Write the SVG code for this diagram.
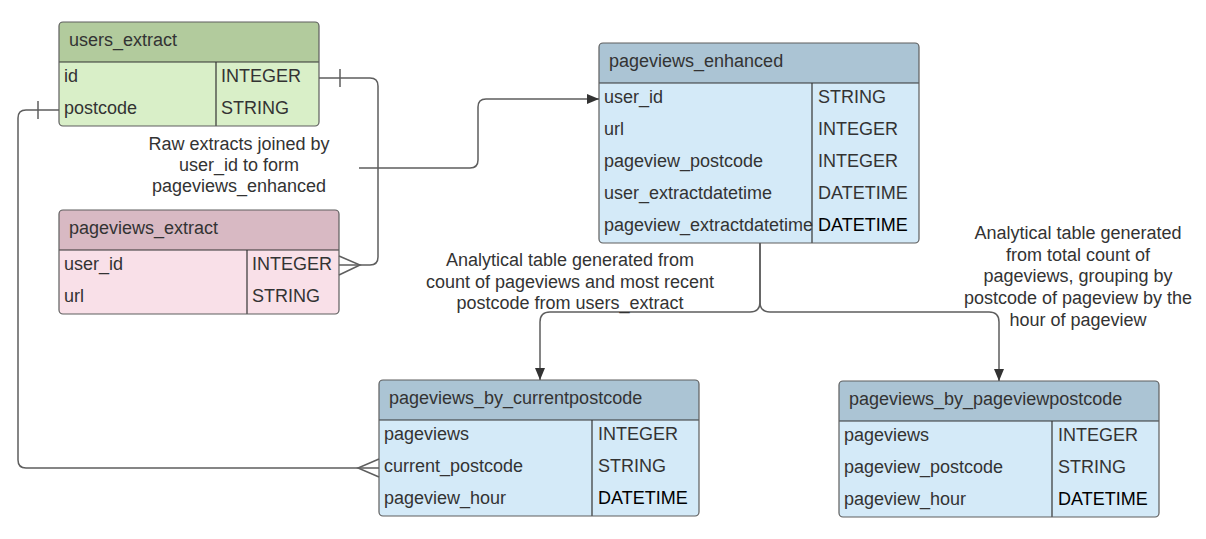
<svg xmlns="http://www.w3.org/2000/svg" width="1206" height="539" viewBox="0 0 1206 539">
<style>
text{font-family:"Liberation Sans",Arial,sans-serif;font-size:18px;fill:#333333}
.lbl{text-anchor:middle}
.blk{fill:#000000}
.border{fill:none;stroke:#5e5e5e;stroke-width:1.2}
.sep{stroke:#333333;stroke-width:1.2}
.conn{fill:none;stroke:#5e5e5e;stroke-width:1.5}
.g-h{fill:#b2cb9d}.g-b{fill:#d9efc8}
.p-h{fill:#d8b9c3}.p-b{fill:#f9e0e8}
.b-h{fill:#abc4d4}.b-b{fill:#d4eaf8}
</style>
<defs>
<marker id="arr" viewBox="0 0 12 10" refX="12" refY="5" markerWidth="12" markerHeight="10" markerUnits="userSpaceOnUse" orient="auto">
<path d="M0,0 L12,5 L0,10 Z" fill="#333333"/>
</marker>
</defs>

<g id="users_extract">
<rect x="59" y="22" width="260" height="104" rx="4" class="g-b"/>
<path d="M59,62 V26 Q59,22 63,22 H315 Q319,22 319,26 V62 Z" class="g-h"/>
<line x1="59" y1="62" x2="319" y2="62" class="sep"/>
<line x1="216" y1="62" x2="216" y2="126" class="sep"/>
<rect x="59" y="22" width="260" height="104" rx="4" class="border"/>
<text x="69" y="46">users_extract</text>
<text x="64" y="82">id</text><text x="221" y="82">INTEGER</text>
<text x="64" y="114">postcode</text><text x="221" y="114">STRING</text>
</g>

<g id="pageviews_extract">
<rect x="59" y="210" width="280" height="104" rx="4" class="p-b"/>
<path d="M59,250 V214 Q59,210 63,210 H335 Q339,210 339,214 V250 Z" class="p-h"/>
<line x1="59" y1="250" x2="339" y2="250" class="sep"/>
<line x1="247" y1="250" x2="247" y2="314" class="sep"/>
<rect x="59" y="210" width="280" height="104" rx="4" class="border"/>
<text x="69" y="234">pageviews_extract</text>
<text x="64" y="270">user_id</text><text x="252" y="270">INTEGER</text>
<text x="64" y="302">url</text><text x="252" y="302">STRING</text>
</g>

<g id="pageviews_enhanced">
<rect x="599" y="43" width="320" height="200" rx="4" class="b-b"/>
<path d="M599,83 V47 Q599,43 603,43 H915 Q919,43 919,47 V83 Z" class="b-h"/>
<line x1="599" y1="83" x2="919" y2="83" class="sep"/>
<line x1="812" y1="83" x2="812" y2="243" class="sep"/>
<rect x="599" y="43" width="320" height="200" rx="4" class="border"/>
<text x="609" y="67">pageviews_enhanced</text>
<text x="604" y="103">user_id</text><text x="818" y="103">STRING</text>
<text x="604" y="135">url</text><text x="818" y="135">INTEGER</text>
<text x="604" y="167">pageview_postcode</text><text x="818" y="167">INTEGER</text>
<text x="604" y="199">user_extractdatetime</text><text x="818" y="199">DATETIME</text>
<text x="604" y="231">pageview_extractdatetime</text><text x="818" y="231" class="blk">DATETIME</text>
</g>

<g id="pageviews_by_currentpostcode">
<rect x="379" y="380" width="320" height="136" rx="4" class="b-b"/>
<path d="M379,420 V384 Q379,380 383,380 H695 Q699,380 699,384 V420 Z" class="b-h"/>
<line x1="379" y1="420" x2="699" y2="420" class="sep"/>
<line x1="592" y1="420" x2="592" y2="516" class="sep"/>
<rect x="379" y="380" width="320" height="136" rx="4" class="border"/>
<text x="389" y="404">pageviews_by_currentpostcode</text>
<text x="384" y="440">pageviews</text><text x="598" y="440">INTEGER</text>
<text x="384" y="472">current_postcode</text><text x="598" y="472">STRING</text>
<text x="384" y="504">pageview_hour</text><text x="598" y="504" class="blk">DATETIME</text>
</g>

<g id="pageviews_by_pageviewpostcode">
<rect x="839" y="381" width="320" height="136" rx="4" class="b-b"/>
<path d="M839,421 V385 Q839,381 843,381 H1155 Q1159,381 1159,385 V421 Z" class="b-h"/>
<line x1="839" y1="421" x2="1159" y2="421" class="sep"/>
<line x1="1052" y1="421" x2="1052" y2="517" class="sep"/>
<rect x="839" y="381" width="320" height="136" rx="4" class="border"/>
<text x="849" y="405">pageviews_by_pageviewpostcode</text>
<text x="844" y="441">pageviews</text><text x="1058" y="441">INTEGER</text>
<text x="844" y="473">pageview_postcode</text><text x="1058" y="473">STRING</text>
<text x="844" y="505">pageview_hour</text><text x="1058" y="505" class="blk">DATETIME</text>
</g>

<g id="connectors">
<!-- users_extract.id to pageviews_extract.user_id -->
<path d="M319,78 H370 Q378,78 378,86 V257 Q378,265 370,265 H339" class="conn"/>
<line x1="340" y1="69" x2="340" y2="87" class="conn"/>
<path d="M339,256 L360,265 L339,275" class="conn"/>
<!-- users_extract.postcode to pageviews_by_currentpostcode.current_postcode -->
<path d="M59,110 H26 Q18,110 18,118 V460 Q18,468 26,468 H379" class="conn"/>
<line x1="38" y1="101" x2="38" y2="119" class="conn"/>
<path d="M379,459 L358,468 L379,477" class="conn"/>
<!-- join arrow to pageviews_enhanced -->
<path d="M359,168 H470 Q478,168 478,160 V107 Q478,99 486,99 H599" class="conn" marker-end="url(#arr)"/>
<!-- pageviews_enhanced to analytical tables -->
<path d="M760,243 V302 Q760,312 750,312 H550 Q540,312 540,322 V380" class="conn" marker-end="url(#arr)"/>
<path d="M760,243 V302 Q760,312 770,312 H989 Q999,312 999,322 V381" class="conn" marker-end="url(#arr)"/>
</g>

<g id="labels">
<text class="lbl" x="239" y="150">Raw extracts joined by</text>
<text class="lbl" x="239" y="171">user_id to form</text>
<text class="lbl" x="239" y="192">pageviews_enhanced</text>
<text class="lbl" x="570" y="266">Analytical table generated from</text>
<text class="lbl" x="570" y="288">count of pageviews and most recent</text>
<text class="lbl" x="570" y="309">postcode from users_extract</text>
<text class="lbl" x="1078" y="239">Analytical table generated</text>
<text class="lbl" x="1078" y="261">from total count of</text>
<text class="lbl" x="1078" y="282">pageviews, grouping by</text>
<text class="lbl" x="1078" y="304">postcode of pageview by the</text>
<text class="lbl" x="1078" y="326">hour of pageview</text>
</g>
</svg>
